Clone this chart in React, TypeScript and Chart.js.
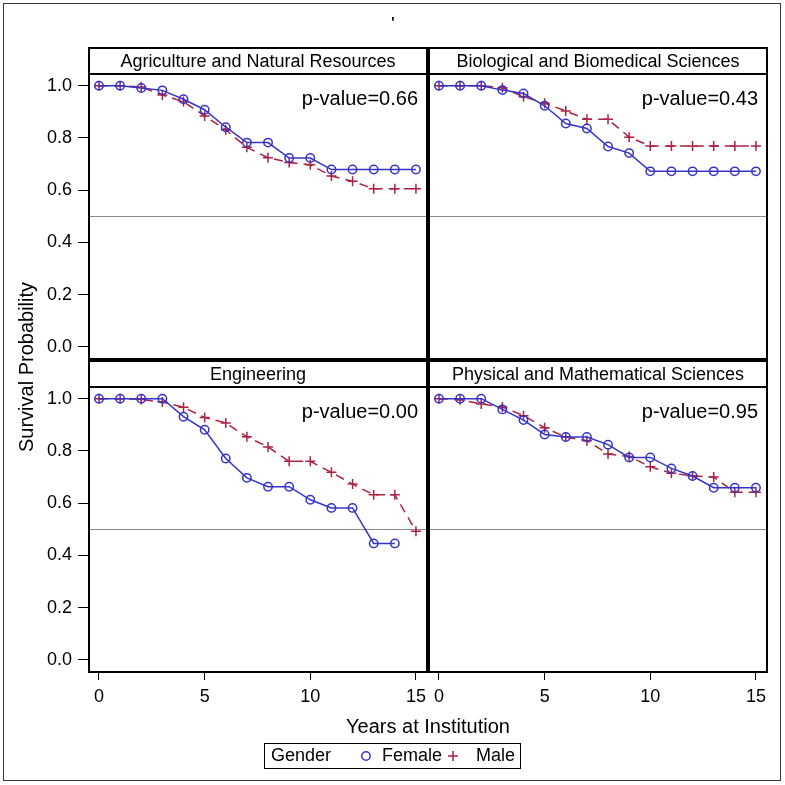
import React, { useEffect, useRef } from 'react';
import { Chart, registerables } from 'chart.js';

Chart.register(...registerables);

const years = [0, 1, 2, 3, 4, 5, 6, 7, 8, 9, 10, 11, 12, 13, 14, 15];
const yTickValues = [0, 0.2, 0.4, 0.6, 0.8, 1.0];
const xTickValues = [0, 5, 10, 15];
const panelTitles = [
  'Agriculture and Natural Resources',
  'Biological and Biomedical Sciences',
  'Engineering',
  'Physical and Mathematical Sciences',
];
const pValues = ['p-value=0.66', 'p-value=0.43', 'p-value=0.00', 'p-value=0.95'];

const agriFemale = [1.0, 1.0, 0.991, 0.982, 0.948, 0.908, 0.841, 0.782, 0.782, 0.723, 0.723, 0.679, 0.679, 0.679, 0.679, 0.679];
const agriMale = [1.0, 1.0, 0.995, 0.964, 0.939, 0.884, 0.831, 0.764, 0.724, 0.706, 0.697, 0.654, 0.634, 0.605, 0.605, 0.605];
const bioFemale = [1.0, 1.0, 1.0, 0.983, 0.97, 0.923, 0.855, 0.836, 0.767, 0.742, 0.672, 0.672, 0.672, 0.672, 0.672, 0.672];
const bioMale = [1.0, 1.0, 1.0, 0.992, 0.958, 0.933, 0.903, 0.871, 0.871, 0.803, 0.769, 0.769, 0.769, 0.769, 0.769, 0.769];
const engFemale = [1.0, 1.0, 1.0, 1.0, 0.931, 0.881, 0.771, 0.697, 0.663, 0.663, 0.613, 0.582, 0.582, 0.446, 0.446, null];
const engMale = [1.0, 1.0, 0.997, 0.987, 0.967, 0.928, 0.907, 0.854, 0.815, 0.76, 0.76, 0.718, 0.673, 0.632, 0.632, 0.493];
const physFemale = [1.0, 1.0, 1.0, 0.959, 0.918, 0.863, 0.853, 0.853, 0.824, 0.775, 0.775, 0.733, 0.704, 0.659, 0.659, 0.659];
const physMale = [1.0, 0.996, 0.98, 0.968, 0.935, 0.889, 0.853, 0.839, 0.788, 0.779, 0.739, 0.715, 0.704, 0.7, 0.642, 0.642];

const FEMALE = '#3434c8';
const MALE = '#ad2240';
const FONT = '"Liberation Sans", Arial, Helvetica, sans-serif';

const toPoints = (arr: (number | null)[]) =>
  years.map((x, i) => ({ x, y: arr[i] })).filter((p) => p.y !== null) as { x: number; y: number }[];

const femaleDs = (arr: (number | null)[], xAxisID: string, yAxisID: string) => ({
  label: 'Female',
  data: toPoints(arr),
  xAxisID,
  yAxisID,
  borderColor: FEMALE,
  borderWidth: 1.5,
  pointStyle: 'circle',
  pointRadius: 4.2,
  pointBorderWidth: 1.5,
  pointBorderColor: FEMALE,
  pointBackgroundColor: 'rgba(0,0,0,0)',
  fill: false,
  tension: 0,
});

const maleDs = (arr: (number | null)[], xAxisID: string, yAxisID: string) => ({
  label: 'Male',
  data: toPoints(arr),
  xAxisID,
  yAxisID,
  borderColor: MALE,
  borderWidth: 1.5,
  borderDash: [9, 6],
  pointStyle: 'cross',
  pointRadius: 5,
  pointBorderWidth: 1.5,
  pointBorderColor: MALE,
  pointBackgroundColor: MALE,
  fill: false,
  tension: 0,
});

const yScale = () => ({
  type: 'linear' as const,
  position: 'left' as const,
  stack: 'rows',
  stackWeight: 1,
  min: -0.05,
  max: 1.148,
  afterBuildTicks: (s: any) => {
    s.ticks = yTickValues.map((v) => ({ value: v }));
  },
  afterFit: (s: any) => {
    s.width = 80;
  },
  ticks: {
    color: '#000',
    font: { size: 18, family: FONT },
    padding: 6,
    callback: (v: any) => Number(v).toFixed(1),
  },
  grid: { drawOnChartArea: false, drawTicks: true, tickLength: 10, color: '#000', lineWidth: 1 },
  border: { display: false },
});

const xScale = () => ({
  type: 'linear' as const,
  position: 'bottom' as const,
  stack: 'cols',
  stackWeight: 1,
  min: -0.52,
  max: 15.57,
  afterBuildTicks: (s: any) => {
    s.ticks = xTickValues.map((v) => ({ value: v }));
  },
  afterFit: (s: any) => {
    s.height = 40;
  },
  ticks: {
    color: '#000',
    font: { size: 18, family: FONT },
    padding: 6,
    maxRotation: 0,
    callback: (v: any) => String(v),
  },
  grid: { drawOnChartArea: false, drawTicks: true, tickLength: 7, color: '#000', lineWidth: 1 },
  border: { display: false },
});

const panels = [
  ['xL', 'yT'],
  ['xR', 'yT'],
  ['xL', 'yB'],
  ['xR', 'yB'],
];

const panelPlugin = {
  id: 'panelDecor',
  beforeDatasetsDraw(chart: any) {
    const ctx = chart.ctx;
    ctx.save();
    panels.forEach(([xa, ya]) => {
      const xs = chart.scales[xa];
      const ys = chart.scales[ya];
      const y = Math.round(ys.getPixelForValue(0.5)) + 0.5;
      ctx.strokeStyle = '#8a8a8a';
      ctx.lineWidth = 1;
      ctx.beginPath();
      ctx.moveTo(xs.left, y);
      ctx.lineTo(xs.right, y);
      ctx.stroke();
    });
    ctx.restore();
  },
  afterDraw(chart: any) {
    const ctx = chart.ctx;
    ctx.save();
    ctx.strokeStyle = '#3a3a3a';
    ctx.lineWidth = 1;
    ctx.strokeRect(3.5, 3.5, 777, 777);

    ctx.fillStyle = '#000';
    ctx.font = `bold 14px ${FONT}`;
    ctx.textAlign = 'center';
    ctx.textBaseline = 'middle';
    ctx.fillText("'", 393, 23);

    const headerH = 26;
    panels.forEach(([xa, ya], i) => {
      const xs = chart.scales[xa];
      const ys = chart.scales[ya];
      const left = xs.left + 1;
      const right = xs.right - 1;
      const top = ys.top + 1;
      const bottom = ys.bottom - 1;
      ctx.strokeStyle = '#000';
      ctx.lineWidth = 2;
      ctx.strokeRect(left, top, right - left, bottom - top);
      ctx.beginPath();
      ctx.moveTo(left, top + headerH);
      ctx.lineTo(right, top + headerH);
      ctx.stroke();
      ctx.fillStyle = '#000';
      ctx.font = `18px ${FONT}`;
      ctx.textAlign = 'center';
      ctx.textBaseline = 'middle';
      ctx.fillText(panelTitles[i], (left + right) / 2, top + headerH / 2 + 1);
      ctx.font = `20px ${FONT}`;
      ctx.textAlign = 'right';
      ctx.fillText(pValues[i], right - 9, top + headerH + 25);
    });

    ctx.fillStyle = '#000';
    ctx.font = `20px ${FONT}`;
    ctx.textAlign = 'center';
    ctx.textBaseline = 'middle';
    ctx.fillText('Years at Institution', 428, 727);
    ctx.save();
    ctx.translate(27, 367);
    ctx.rotate(-Math.PI / 2);
    ctx.fillText('Survival Probability', 0, 0);
    ctx.restore();

    ctx.strokeStyle = '#000';
    ctx.lineWidth = 1;
    ctx.strokeRect(264.5, 743.5, 256, 25);
    ctx.font = `18px ${FONT}`;
    ctx.textAlign = 'left';
    ctx.fillStyle = '#000';
    ctx.fillText('Gender', 271, 756);
    ctx.fillText('Female', 382, 756);
    ctx.fillText('Male', 476, 756);
    ctx.strokeStyle = FEMALE;
    ctx.lineWidth = 1.5;
    ctx.beginPath();
    ctx.arc(366, 756, 4.2, 0, Math.PI * 2);
    ctx.stroke();
    ctx.strokeStyle = MALE;
    ctx.beginPath();
    ctx.moveTo(453 - 5, 756);
    ctx.lineTo(453 + 5, 756);
    ctx.moveTo(453, 751);
    ctx.lineTo(453, 761);
    ctx.stroke();
    ctx.restore();
  },
};

export default function App() {
  const canvasRef = useRef<HTMLCanvasElement | null>(null);

  useEffect(() => {
    document.body.style.margin = '0';
    const canvas = canvasRef.current;
    if (!canvas) return;
    const chart = new Chart(canvas, {
      type: 'line',
      data: {
        datasets: [
          femaleDs(agriFemale, 'xL', 'yT'),
          maleDs(agriMale, 'xL', 'yT'),
          femaleDs(bioFemale, 'xR', 'yT'),
          maleDs(bioMale, 'xR', 'yT'),
          femaleDs(engFemale, 'xL', 'yB'),
          maleDs(engMale, 'xL', 'yB'),
          femaleDs(physFemale, 'xR', 'yB'),
          maleDs(physMale, 'xR', 'yB'),
        ] as any,
      },
      options: {
        animation: false,
        responsive: false,
        devicePixelRatio: 1,
        layout: { padding: { left: 8, right: 17, top: 47, bottom: 72 } },
        plugins: {
          legend: { display: false },
          tooltip: { enabled: false },
          title: { display: false },
        },
        scales: {
          yB: yScale(),
          yT: yScale(),
          xL: xScale(),
          xR: xScale(),
        } as any,
      },
      plugins: [panelPlugin],
    });
    return () => chart.destroy();
  }, []);

  return (
    <div style={{ width: 785, height: 785, background: '#fff' }}>
      <canvas ref={canvasRef} width={785} height={785} style={{ width: 785, height: 785, display: 'block' }} />
    </div>
  );
}
